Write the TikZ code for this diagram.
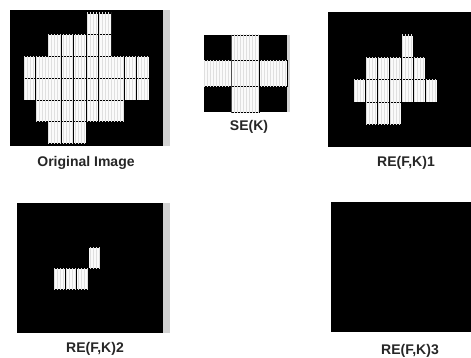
\documentclass[tikz,border=0pt]{standalone}
\usepackage{fontspec}
\setmainfont{Liberation Sans}
\usetikzlibrary{patterns}

\begin{document}
\begin{tikzpicture}[
    x=1pt, y=-1pt,
    panel/.style={fill=black},
    edge/.style={fill=gray!35},
    pix/.style={draw=black, line width=0.5pt, fill=gray!4, postaction={pattern=vertical lines, pattern color=gray!25}},
    caption/.style={font=\fontsize{14}{16}\selectfont\bfseries, text=black!85, inner sep=0pt}
  ]
    \useasboundingbox (0,0) rectangle (471,358);

    % Original image
    \fill[panel] (10,10) rectangle (163,146);
    \fill[edge] (163,10) rectangle (170,146);
    \foreach \r/\a/\b in {0/5/6, 1/2/6, 2/0/9, 3/0/9, 4/1/7, 5/2/4}
      \foreach \c in {\a,...,\b}
        \draw[pix] ({23+12.6*\c},{13+21.7*\r}) rectangle +(12.6,21.7);
    \node[caption] (orig) at (86,163) {Original Image};

    % Structuring element
    \fill[panel] (204,35) rectangle (287,112);
    \fill[edge] (287,35) rectangle (290,112);
    \foreach \c/\r in {1/0, 0/1, 1/1, 2/1, 1/2}
      \draw[pix] ({204+27.67*\c},{35+25.67*\r}) rectangle +(27.67,25.67);
    \node[caption] (se) at (249,127) {SE(K)};

    % First erosion
    \fill[panel] (328,12) rectangle (471,147);
    \foreach \r/\a/\b in {0/4/4, 1/1/5, 2/0/6, 3/1/3}
      \foreach \c in {\a,...,\b}
        \draw[pix] ({353+12*\c},{35+22.3*\r}) rectangle +(12,22.3);
    \node[caption] (re1) at (406,163) {RE(F,K)1};

    % Second erosion
    \fill[panel] (17,203) rectangle (163,333);
    \fill[edge] (163,203) rectangle (170,333);
    \foreach \r/\a/\b in {0/3/3, 1/0/2}
      \foreach \c in {\a,...,\b}
        \draw[pix] ({53+11.8*\c},{247+21*\r}) rectangle +(11.8,21);
    \node[caption] (re2) at (95,349) {RE(F,K)2};

    % Third erosion
    \fill[panel] (331,202) rectangle (471,332);
    \node[caption] (re3) at (410,351) {RE(F,K)3};

  \end{tikzpicture}
\end{document}
